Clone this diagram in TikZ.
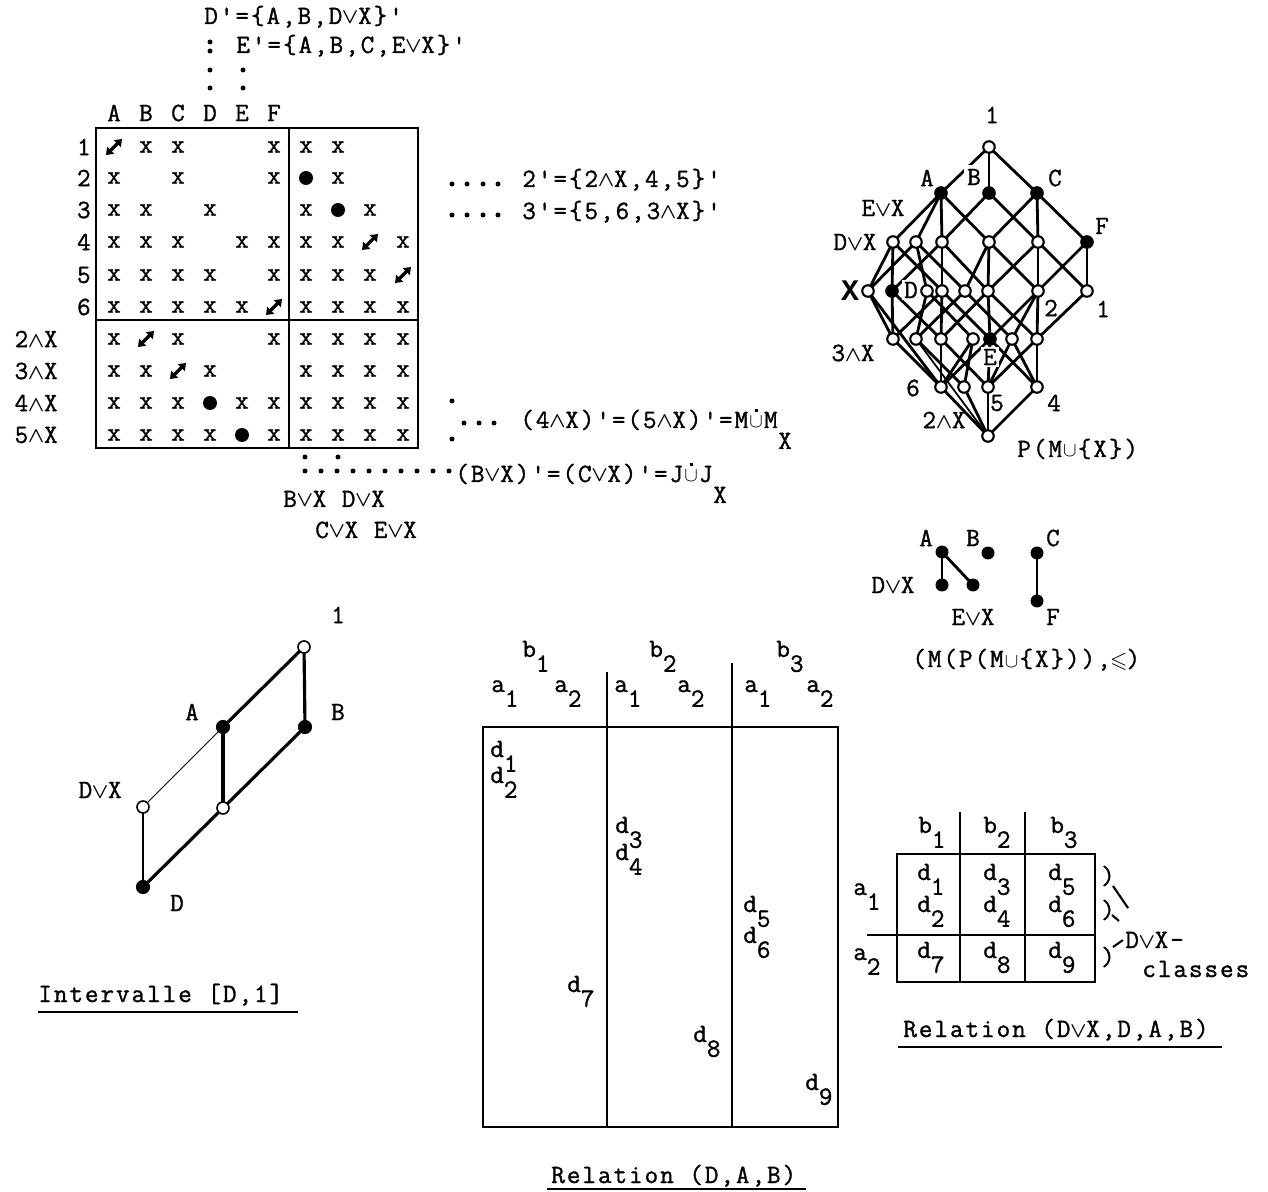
\documentclass[tikz,border=0pt]{standalone}
\usepackage{amsmath,amssymb}
\usepackage{fontspec}
\newfontfamily\twfam{Latin Modern Mono}[LetterSpace=7.5,FakeBold=1.2]
\newfontfamily\lmonob{Liberation Mono}
\newcommand\tw{\twfam\fontsize{15}{17}\selectfont}
\newcommand\vo{\makebox[0.6em]{\scalebox{0.85}{$\boldsymbol{\vee}$}}}
\newcommand\wa{\makebox[0.6em]{\scalebox{0.85}{$\boldsymbol{\wedge}$}}}
\newcommand\cupp{\makebox[0.6em]{\scalebox{0.8}{$\cup$}}}
\newcommand\cupd{\cupp\kern-0.3em\raisebox{0.6em}{\makebox[0pt]{\rule{1.7pt}{1.7pt}}}\kern0.3em}
\newcommand\leqb{\makebox[0.6em]{\scalebox{0.85}{$\boldsymbol{\leqslant}$}}}
\newcommand\lo[1]{\raisebox{-0.56em}{#1}}
\usetikzlibrary{arrows.meta}
\begin{document}
\begin{tikzpicture}[x=0.02cm,y=-0.02cm,
  every node/.style={inner sep=0pt,font=\tw},
  tl/.style={anchor=base west},
  tbox/.style={line width=1.4pt},
  dotm/.style={circle,fill=black,minimum size=0.1cm},
  bdot/.style={circle,fill=black,minimum size=0.28cm},
  lat/.style={line width=1.6pt},
  thinl/.style={line width=0.6pt},
  opn/.style={circle,draw,fill=white,line width=1.2pt,minimum size=0.23cm},
  fil/.style={circle,draw,fill=black,line width=1.2pt,minimum size=0.23cm},
  pdot/.style={circle,fill=black,minimum size=0.26cm},
  darr/.pic={\draw[line width=2pt,{Triangle[length=3.8pt,width=5.5pt]}-{Triangle[length=3.8pt,width=5.5pt]}] (-8,8) -- (8,-8);}
]
\fill[white] (0,0) rectangle (1268,1192);
\useasboundingbox (0,0) rectangle (1268,1192);

% ---------- top annotations ----------
\node[tl] (dprime) at (204,24) {D'=\{A,B,D\vo X\}'};
\node[tl] (eprime) at (236,53) {E'=\{A,B,C,E\vo X\}'};
\foreach \i/\x/\y in {1/210/42,2/210/51,3/210/70,4/210/88,5/243/70,6/243/88}
  \node[dotm] (td\i) at (\x,\y) {};

% ---------- context table ----------
\foreach \l/\x in {A/114,B/146,C/178,D/210,E/242,F/274}
  \node (h\l) at (\x,113) {\l};
\foreach \l/\y in {1/147,2/178,3/210,4/242,5/275,6/307}
  \node[anchor=east] (r\l) at (91,\y) {\l};
\foreach \l/\y in {2/339,3/371,4/403,5/435}
  \node[anchor=east] (rx\l) at (58,\y) {\l\wa X};
\draw[tbox] (96,128) rectangle (418,448);
\draw[tbox] (289,128) -- (289,448);
\draw[tbox] (96,320) -- (418,320);
\foreach \yy/\xs in {147/{146,178,274,306,338},
  178/{114,178,274,338},
  210/{114,146,210,306,370},
  242/{114,146,178,242,274,306,338,403},
  275/{114,146,178,210,274,306,338,370},
  307/{114,146,178,210,242,306,338,370,403},
  339/{114,178,274,306,338,370,403},
  371/{114,146,210,306,338,370,403},
  403/{114,146,178,242,274,306,338,370,403},
  435/{114,146,178,210,274,306,338,370,403}}
  {\foreach \xx in \xs {\node (cx\xx-\yy) at (\xx,\yy) {x};}}
\foreach \xx/\yy in {114/147,370/242,403/275,274/307,146/339,178/371}
  \pic at (\xx,\yy) {darr};
\foreach \i/\xx/\yy in {1/306/178,2/338/210,3/210/403,4/242/435}
  \node[bdot] (bd\i) at (\xx,\yy) {};

% ---------- right annotations ----------
\foreach \x in {452,467,483,498} {\node[dotm] (dA\x) at (\x,184) {}; \node[dotm] (dB\x) at (\x,215) {};}
\node[tl] (two) at (522,187) {2'=\{2\wa X,4,5\}'};
\node[tl] (three) at (522,219) {3'=\{5,6,3\wa X\}'};
\foreach \i/\x/\y in {1/452/401,2/452/439,3/464/423,4/479/423,5/494/423}
  \node[dotm] (dc\i) at (\x,\y) {};
\node[tl] (fourx) at (520,428) {(4\wa X)'=(5\wa X)'=M\cupd M};
\node[tl] (fourxs) at (fourx.base east) [yshift=-0.42cm] {X};
\node[dotm] (dv1) at (305,457) {};
\node[dotm] (dv2) at (338,457) {};
\foreach \x in {305,321,337,353,369,385,401,417,433,449}
  \node[dotm] (dh\x) at (\x,471) {};
\node[tl] (bvx) at (455,482) {(B\vo X)'=(C\vo X)'=J\cupd J};
\node[tl] (bvxs) at (bvx.base east) [yshift=-0.42cm] {X};
\node[tl] (bdlab) at (283,507) {B\vo X D\vo X};
\node[tl] (celab) at (315,538) {C\vo X E\vo X};

% ---------- lattice P(M u {X}) ----------
\foreach \n/\x/\y in {t/989/147, a/941/193, b/989/193, c/1037/193,
  d1/893/242, e1/916/242, g3/942/242, h3/989/242, i3/1038/242, f/1087/242,
  x/868/291, dd/892/291, k1/927/291, k2/942/291, k3/965/291, k4/988/291, k5/1038/291, k6/1087/291,
  m1/893/339, m2/916/339, m3/941/339, m4/973/339, ee/990/339, m5/1012/339, m6/1037/339,
  s6/941/387, s2/964/387, s5/988/387, s4/1037/387, z/988/436}
  \coordinate (L\n) at (\x,\y);
\foreach \u/\v in {t/a,t/b,t/c,a/d1,a/e1,a/g3,a/h3,b/g3,b/i3,c/h3,c/i3,c/f,
  d1/x,d1/dd,d1/k2,e1/x,e1/k1,e1/k3,g3/dd,g3/k2,g3/k4,h3/k3,h3/k4,h3/k5,i3/k4,i3/k5,i3/k6,f/k5,f/k6,
  x/m1,x/s6,dd/m1,dd/m3,k1/m2,k1/m4,k2/m1,k2/m3,k2/ee,k3/m2,k3/m5,k4/m3,k4/ee,k4/m6,k5/ee,k5/m5,k5/m6,k6/m6,
  m1/s6,m2/s2,m3/s6,m3/s5,m4/s6,m4/s2,ee/s5,ee/s4,ee/s6,m5/s5,m5/s4,m6/s4,m6/s5,
  s6/z,s2/z,s5/z,s4/z}
  \draw[lat] (L\u) -- (L\v);
\draw[line width=1pt] (Lm2) -- (Lz);
\foreach \n in {t,d1,e1,g3,h3,i3,x,k1,k2,k3,k4,k5,k6,m1,m2,m3,m4,m5,m6,s6,s2,s5,s4,z}
  \node[opn] (N\n) at (L\n) {};
\foreach \n in {a,b,c,f,dd,ee}
  \node[fil] (N\n) at (L\n) {};
\node (l1) at (992,115) {1};
\node (lA) at (927,178) {A};
\node[fill=white,inner sep=2pt] (lB) at (974,177) {B};
\node (lC) at (1055,178) {C};
\node (lEX) at (883,208) {E\vo X};
\node (lDX) at (855,242) {D\vo X};
\node (lF) at (1102,226) {F};
\node (lX) at (850,291) {\lmonob\fontsize{17}{17}\selectfont\bfseries X};
\node[fill=white,inner sep=1pt] (lD) at (911,290) {D};
\node (l2) at (1051,308) {2};
\node (l1b) at (1103,309) {1};
\node (l3X) at (853,353) {3\wa X};
\node[fill=white,inner sep=1pt] (lE) at (990,357) {E};
\node (l6) at (913,388) {6};
\node (l5) at (997,403) {5};
\node (l4) at (1054,403) {4};
\node (l2X) at (944,420) {2\wa X};
\node[tl] (lP) at (1017,457) {P(M\cupp\{X\})};

% ---------- small poset ----------
\coordinate (pA) at (942,552); \coordinate (pB) at (988,553); \coordinate (pC) at (1037,553);
\coordinate (pD) at (942,585); \coordinate (pE) at (973,585); \coordinate (pF) at (1037,601);
\draw[lat] (pA) -- (pD);
\draw[lat] (pA) -- (pE);
\draw[lat] (pC) -- (pF);
\foreach \n in {pA,pB,pC,pD,pE,pF} \node[pdot] (Q\n) at (\n) {};
\node (qA) at (926,538) {A};
\node (qB) at (973,538) {B};
\node (qC) at (1053,538) {C};
\node (qDX) at (893,585) {D\vo X};
\node (qEX) at (973,617) {E\vo X};
\node (qF) at (1053,617) {F};
\node[tl] (qcap) at (912,667) {(M(P(M\cupp\{X\})),\leqb)};

% ---------- interval [D,1] ----------
\coordinate (i1) at (304,647); \coordinate (iA) at (223,727); \coordinate (iB) at (305,727);
\coordinate (iDX) at (143,807); \coordinate (iM) at (223,808); \coordinate (iD) at (143,887);
\draw[line width=1.8pt] (i1) -- (iA);
\draw[line width=1.8pt] (i1) -- (iB);
\draw[line width=1.8pt] (iA) -- (iM);
\draw[line width=1.8pt] (iB) -- (iM);
\draw[line width=1.8pt] (iM) -- (iD);
\draw[thinl] (iA) -- (iDX);
\draw[thinl] (iDX) -- (iD);
\node[opn,minimum size=0.24cm,line width=0.9pt] (I1) at (i1) {};
\node[fil,minimum size=0.24cm] (IA) at (iA) {};
\node[fil,minimum size=0.24cm] (IB) at (iB) {};
\node[opn,minimum size=0.24cm,line width=0.9pt] (IDX) at (iDX) {};
\node[opn,minimum size=0.24cm,line width=0.9pt] (IM) at (iM) {};
\node[fil,minimum size=0.24cm] (ID) at (iD) {};
\node (j1) at (338,615) {1};
\node (jA) at (192,712) {A};
\node (jB) at (338,712) {B};
\node[anchor=east] (jDX) at (122,790) {D\vo X};
\node (jD) at (177,903) {D};
\node[tl] (intcap) at (38,1002) {Intervalle [D,1]};
\draw[line width=1pt] (38,1012) -- (298,1012);

% ---------- Relation (D,A,B) ----------
\draw[tbox] (483,727) rectangle (838,1127);
\draw[tbox] (607,672) -- (607,1127);
\draw[tbox] (732,663) -- (732,1127);
\foreach \i/\bx/\axa/\axb/\k in {1/522/491/554/1, 2/649/614/677/2, 3/776/744/806/3} {
  \node[tl] (rb\i) at (\bx,657) {b\lo{\k}};
  \node[tl] (ra\i a) at (\axa,692) {a\lo{1}};
  \node[tl] (ra\i b) at (\axb,692) {a\lo{2}};
}
\foreach \k/\x/\y in {1/490/757,2/490/783,3/615/833,4/615/860,5/743/912,6/743/943,7/567/992,8/693/1042,9/805/1090}
  \node[tl] (rd\k) at (\x,\y) {d\lo{\k}};
\node[tl] (relcap) at (551,1183) {Relation (D,A,B)};
\draw[line width=1pt] (547,1189) -- (806,1189);

% ---------- Relation (DvX,D,A,B) ----------
\draw[tbox] (897,854) rectangle (1095,982);
\draw[tbox] (960,812) -- (960,982);
\draw[tbox] (1025,812) -- (1025,982);
\draw[tbox] (867,935) -- (1095,935);
\foreach \k/\x in {1/918,2/983,3/1050}
  \node[tl] (sb\k) at (\x,833) {b\lo{\k}};
\node[tl] (sa1) at (853,895) {a\lo{1}};
\node[tl] (sa2) at (853,960) {a\lo{2}};
\foreach \k/\x/\y in {1/917/880,2/917/912,3/983/880,4/983/912,5/1048/880,6/1048/912,7/917/958,8/983/958,9/1048/958}
  \node[tl] (sd\k) at (\x,\y) {d\lo{\k}};
\node (br1) at (1108,876) {)};
\node (br2) at (1108,910) {)};
\node (br3) at (1108,957) {)};
\draw[line width=1.2pt] (1113,886) -- (1128,908);
\draw[line width=1.2pt] (1112,915) -- (1119,921);
\draw[line width=1.2pt] (1113,947) -- (1123,940);
\node[tl] (sdx) at (1125,948) {D\vo X-};
\node[tl] (scl) at (1142,977) {classes};
\node[tl] (scap) at (903,1037) {Relation (D\vo X,D,A,B)};
\draw[line width=1pt] (898,1047) -- (1222,1047);
\end{tikzpicture}
\end{document}
